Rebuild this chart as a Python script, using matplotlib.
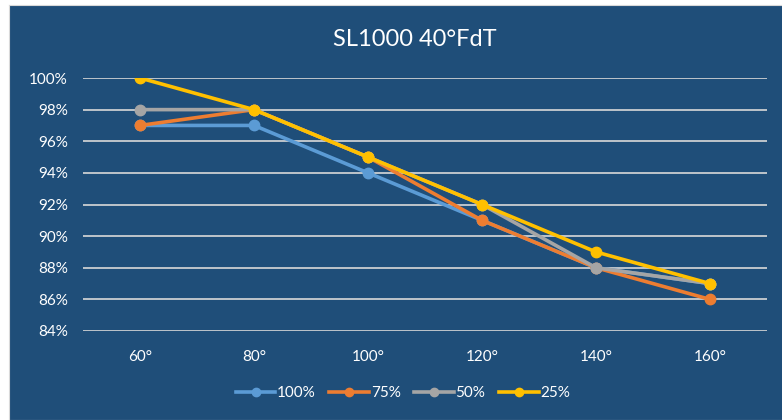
import matplotlib.pyplot as plt

# data
angles = ["60°", "80°", "100°", "120°", "140°", "160°"]
s100 = [97, 97, 94, 91, 88, 87]
s75 = [97, 98, 95, 91, 88, 86]
s50 = [98, 98, 95, 92, 88, 87]
s25 = [100, 98, 95, 92, 89, 87]
series_names = ["100%", "75%", "50%", "25%"]
colors = ["#5B9BD5", "#ED7D31", "#A5A5A5", "#FFC000"]
yticks = [84, 86, 88, 90, 92, 94, 96, 98, 100]

BG = "#1F4E79"
plt.rcParams['font.family'] = ['Lato', 'DejaVu Sans']

fig = plt.figure(figsize=(7.82, 4.2), dpi=100)
fig.patch.set_facecolor("white")

# dark chart area, leaving a thin white strip at top and left
bg = fig.add_axes([9 / 782, 0, 1, 1 - 5 / 420])
bg.set_facecolor(BG)
bg.set_xticks([])
bg.set_yticks([])
for sp in bg.spines.values():
    sp.set_color("#D9D9D9")
bg.set_zorder(0)

ax = fig.add_axes([83 / 782, 1 - 331 / 420, (767 - 83) / 782, (331 - 78) / 420])
ax.set_zorder(1)
ax.patch.set_alpha(0)

x = list(range(len(angles)))
for vals, name, c in zip([s100, s75, s50, s25], series_names, colors):
    ax.plot(x, vals, color=c, lw=2.6, marker="o", markersize=7.5, label=name,
            zorder=3)

ax.set_xlim(-0.5, len(angles) - 0.5)
ax.set_ylim(84, 100)
ax.set_yticks(yticks)
ax.set_yticklabels([f"{v}%" for v in yticks])
ax.set_xticks(x)
ax.set_xticklabels(angles)
ax.grid(axis="y", color="#D9D9D9", lw=1.2, zorder=1)
ax.grid(axis="x", visible=False)
for sp in ax.spines.values():
    sp.set_visible(False)
ax.tick_params(length=0, colors="white", labelsize=11)
ax.tick_params(axis="x", pad=14)
ax.tick_params(axis="y", pad=11)

fig.text(415 / 782, 1 - 40 / 420, "SL1000 40°FdT", color="white", fontsize=17,
         ha="center", va="center", zorder=5)

leg = fig.legend(loc="center", bbox_to_anchor=(403 / 782, 1 - 393 / 420), ncol=4,
                 frameon=False, fontsize=11, handlelength=2.6, columnspacing=0.9,
                 handletextpad=0.1, labelcolor="white", markerscale=0.8)
leg.set_zorder(5)

fig.savefig("out.png", dpi=100, facecolor=fig.get_facecolor())
